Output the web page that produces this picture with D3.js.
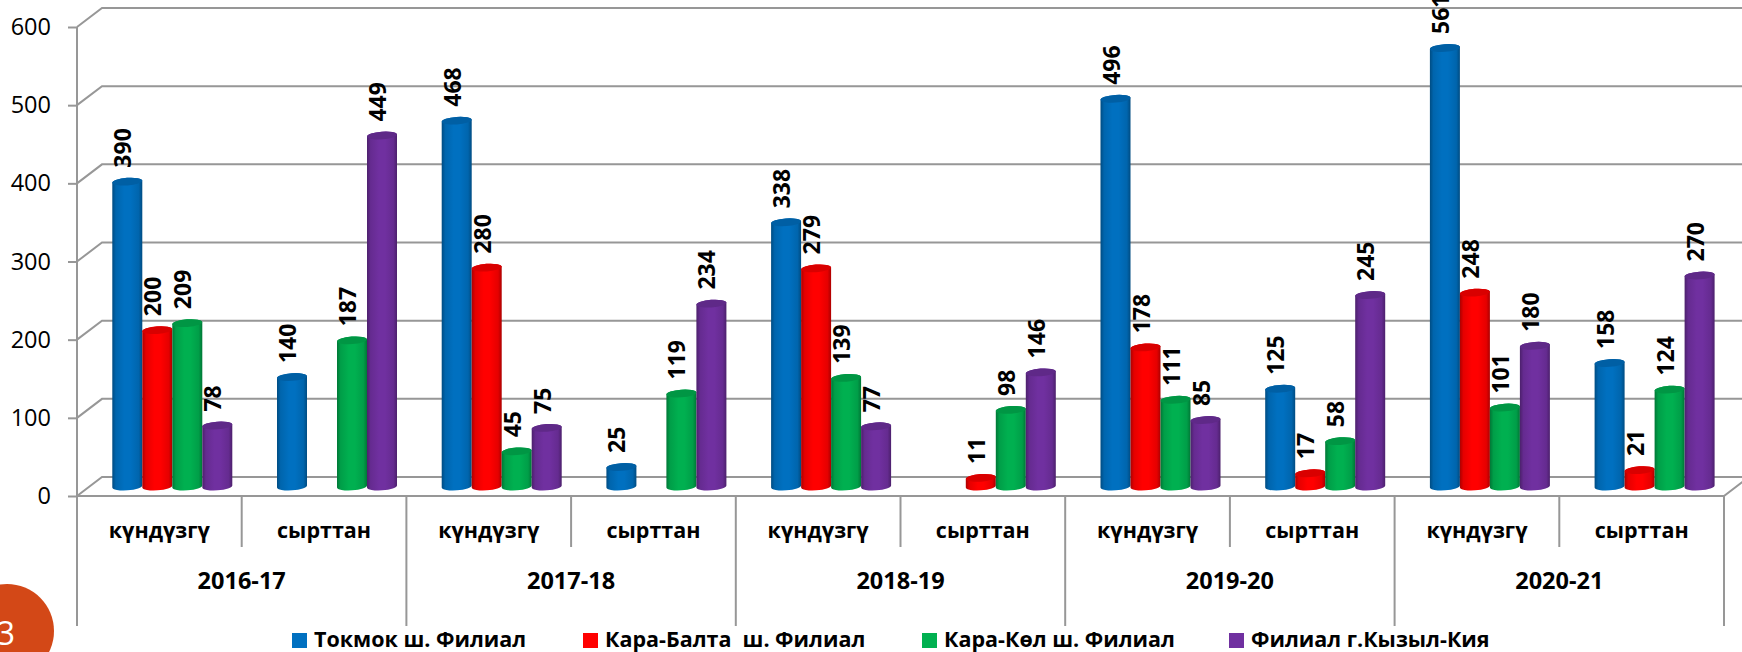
<!DOCTYPE html>
<html><head><meta charset="utf-8">
<script src="https://cdn.jsdelivr.net/npm/d3@7/dist/d3.min.js"></script>
<style>html,body{margin:0;padding:0;background:#fff;overflow:hidden}svg{display:block}</style>
</head><body><svg id="c" width="1742" height="652"></svg>
<script>
const years = ["2016-17","2017-18","2018-19","2019-20","2020-21"];
const modes = ["күндүзгү","сырттан"];
const seriesNames = ["Токмок ш. Филиал","Кара-Балта  ш. Филиал","Кара-Көл ш. Филиал","Филиал г.Кызыл-Кия"];
const seriesColors = ["#0070C0","#FF0000","#00B050","#7030A0"];
const tokmok  = [390,140,468,25,338,null,496,125,561,158];
const kBalta  = [200,null,280,null,279,11,178,17,248,21];
const kKol    = [209,187,45,119,139,98,111,58,101,124];
const kyzyl   = [78,449,75,234,77,146,85,245,180,270];
const seriesValues = [tokmok,kBalta,kKol,kyzyl];
const yTicks = [0,100,200,300,400,500,600];
const legendX = [292,583,922,1229];

const FONT = "'Open Sans',sans-serif", GRID="#979797";
const svg = d3.select("#c");
const y = d3.scaleLinear().domain([0,600]).range([496,27]);
const catKeys = d3.range(10);
const x = d3.scaleBand().domain(catKeys).range([77,1724]);
const yearX = d3.scaleBand().domain(years).range([77,1724]);
const inner = d3.scaleBand().domain(d3.range(4)).range([22.3,142.3]);
const depthX=25, depthY=-19, midX=13, midY=-9.5;
const defs = svg.append("defs");
seriesColors.forEach((c,i)=>{
  const g=defs.append("linearGradient").attr("id","g"+i);
  const dark=d3.color(c).darker(1.1)+"", mid=d3.color(c).darker(0.3)+"";
  [[0,dark],[.12,mid],[.4,c],[.6,c],[.88,mid],[1,dark]].forEach(s=>g.append("stop").attr("offset",s[0]).attr("stop-color",s[1]));
});
// walls
const grid=svg.append("g").attr("fill","none").attr("stroke",GRID).attr("stroke-width",2);
yTicks.forEach(t=>{
  grid.append("path").attr("d",`M77,${y(t)}L${77+depthX},${y(t)+depthY}H1742`);
});
grid.append("path").attr("d",`M77,${y(0)}H1724L${1724+depthX},${y(0)+depthY}`);
grid.append("path").attr("d",`M77,${y(600)}V626`);
grid.append("path").attr("d",`M1724,${y(0)}V626`);
catKeys.slice(1).forEach(k=>{
  grid.append("path").attr("d",`M${x(k)},${y(0)}V${k%2==0?626:547}`);
});
// value axis
const ax=svg.append("g").attr("transform","translate(77,0)").call(d3.axisLeft(y).tickValues(yTicks).tickSize(9).tickPadding(17));
ax.select(".domain").remove();
ax.selectAll("line").attr("stroke",GRID).attr("stroke-width",2);
ax.selectAll("text").attr("fill","#000").style("font-family",FONT).style("font-size","23.5px");
// bars
const w=inner.bandwidth(), ry=3.8, tilt=-4;
seriesValues.forEach((vals,s)=>{
  const g=svg.append("g");
  vals.forEach((v,k)=>{
    if(v==null) return;
    const x0=x(k)+inner(s)+midX, x1=x0+w, cx=(x0+x1)/2, yb=y(0)+midY, yt=y(v)+midY;
    const dy=Math.tan(tilt*Math.PI/180)*w/2;
    g.append("path").attr("fill",`url(#g${s})`)
      .attr("d",`M${x0},${yt-dy}L${x0},${yb-dy}A${w/2},${ry} ${tilt} 0 0 ${x1},${yb+dy}L${x1},${yt+dy}A${w/2},${ry} ${tilt} 0 0 ${x0},${yt-dy}Z`);
    g.append("ellipse").attr("cx",0).attr("cy",0).attr("rx",w/2).attr("ry",ry)
      .attr("transform",`translate(${cx},${yt}) rotate(${tilt})`)
      .attr("fill",d3.color(seriesColors[s]).darker(0.45));
    g.append("text").attr("transform",`translate(${cx+4},${yt-14}) rotate(-90)`)
      .attr("font-family",FONT).attr("font-weight",700).attr("font-size",23).attr("fill","#000").text(v);
  });
});
// category labels
svg.append("g").selectAll("text").data(catKeys).join("text")
  .attr("x",k=>x(k)+x.bandwidth()/2).attr("y",537.5).attr("text-anchor","middle")
  .attr("font-family",FONT).attr("font-weight",700).attr("font-size",21.5).text(k=>modes[k%2]);
svg.append("g").selectAll("text").data(years).join("text")
  .attr("x",d=>yearX(d)+yearX.bandwidth()/2).attr("y",589).attr("text-anchor","middle")
  .attr("font-family",FONT).attr("font-weight",700).attr("font-size",23.5).text(d=>d);
// legend
seriesNames.forEach((n,i)=>{
  svg.append("rect").attr("x",legendX[i]).attr("y",633).attr("width",15).attr("height",15).attr("fill",seriesColors[i]);
  svg.append("text").attr("x",legendX[i]+22).attr("y",647).attr("font-family",FONT).attr("font-weight",700).attr("font-size",21.5).style("white-space","pre").text(n);
});
// page number
svg.append("circle").attr("cx",7).attr("cy",631).attr("r",47).attr("fill","#D34817");
svg.append("text").attr("x",6).attr("y",645).attr("text-anchor","middle").attr("font-family",FONT).attr("font-size",32).attr("fill","#fff").text("3");
</script></body></html>
